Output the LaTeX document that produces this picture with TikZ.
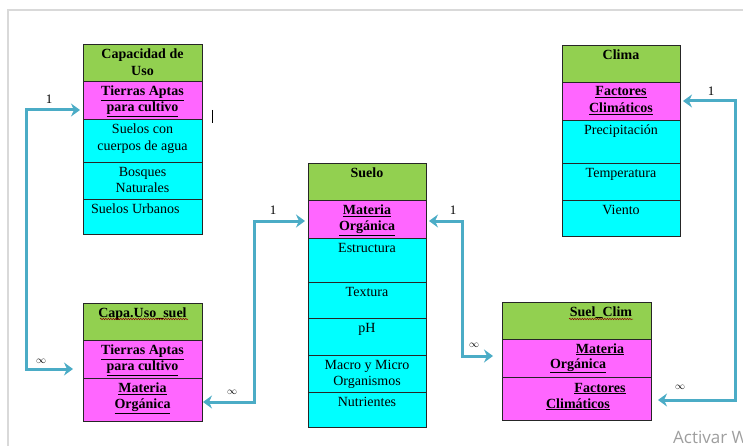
\documentclass[tikz,border=0pt]{standalone}
\usepackage{fontspec}
\setmainfont{Liberation Serif}
\newfontfamily\wmfont{Open Sans}
\usetikzlibrary{arrows.meta,decorations.pathmorphing}
\definecolor{hdr}{HTML}{92D050}
\definecolor{pnk}{HTML}{FF66FF}
\definecolor{cyn}{HTML}{00FFFF}
\definecolor{linkc}{HTML}{4BACC6}
\tikzset{
  cellbox/.style={draw=black!85, line width=0.9pt, anchor=north west, inner sep=0pt, outer sep=0pt},
  celltxt/.style={anchor=north, inner sep=0pt, align=center, font=\fontsize{14}{16.5}\selectfont},
  basetxt/.style={anchor=base, inner sep=0pt, font=\fontsize{14}{16.5}\selectfont},
  link/.style={draw=linkc, line width=3pt,
    {Stealth[length=9pt,width=13pt,inset=3pt]}-{Stealth[length=9pt,width=13pt,inset=3pt]}},
  card/.style={font=\fontsize{13}{15}\selectfont, inner sep=0pt},
  inf/.style={font=\fontsize{10}{12}\selectfont, inner sep=0pt},
  squig/.style={decorate, decoration={snake, amplitude=0.7pt, segment length=2.5pt}, draw=red!55!black, line width=0.5pt}
}
\newcommand\mkcell[6]{\node[cellbox, fill=#6, minimum width=#4pt, minimum height=#5pt] (#1) at (#2,#3) {};}
\begin{document}
\begin{tikzpicture}[x=1pt,y=-1pt]
\useasboundingbox (0,0) rectangle (743,446);
\clip (0,0) rectangle (743,446);
\fill[white] (0,0) rectangle (743,446);
\draw[black!15, line width=2pt] (8,446) -- (8,10) -- (743,10);

% Box 1: Capacidad de Uso
\mkcell{c1h}{83}{44}{119}{37}{hdr}
\mkcell{c1p}{83}{81}{119}{38}{pnk}
\mkcell{c1a}{83}{119}{119}{43}{cyn}
\mkcell{c1b}{83}{162}{119}{37}{cyn}
\mkcell{c1c}{83}{199}{119}{35}{cyn}
\node[celltxt] (t1h) at ([yshift=-5pt]c1h.north) {\textbf{Capacidad de}\\\textbf{Uso}};
\node[celltxt] (t1p) at ([yshift=-4.5pt]c1p.north) {\textbf{\underline{Tierras Aptas}}\\\textbf{\underline{para cultivo}}};
\node[celltxt] (t1a) at ([yshift=-5pt]c1a.north) {Suelos con\\cuerpos de agua};
\node[celltxt] (t1b) at ([yshift=-5pt]c1b.north) {Bosques\\Naturales};
\node[celltxt, anchor=north west] (t1c) at ([shift={(8pt,-5pt)}]c1c.north west) {Suelos Urbanos};

% Box 2: Capa.Uso_suel
\mkcell{c2h}{83}{303}{119}{37}{hdr}
\mkcell{c2p}{83}{340}{119}{38}{pnk}
\mkcell{c2q}{83}{378}{119}{43}{pnk}
\node[celltxt] (t2h) at ([yshift=-5pt]c2h.north) {\textbf{Capa.Uso\_suel}};
\node[celltxt] (t2p) at ([yshift=-4.5pt]c2p.north) {\textbf{\underline{Tierras Aptas}}\\\textbf{\underline{para cultivo}}};
\node[celltxt] (t2q) at ([yshift=-4.5pt]c2q.north) {\textbf{\underline{Materia}}\\\textbf{\underline{Orgánica}}};
\draw[squig] (100,319) -- (188,319);

% Box 3: Suelo
\mkcell{c3h}{308}{163}{118}{37}{hdr}
\mkcell{c3p}{308}{200}{118}{38}{pnk}
\mkcell{c3a}{308}{238}{118}{44}{cyn}
\mkcell{c3b}{308}{282}{118}{36}{cyn}
\mkcell{c3c}{308}{318}{118}{37}{cyn}
\mkcell{c3d}{308}{355}{118}{37}{cyn}
\mkcell{c3e}{308}{392}{118}{35}{cyn}
\node[celltxt] (t3h) at ([yshift=-5pt]c3h.north) {\textbf{Suelo}};
\node[celltxt] (t3p) at ([yshift=-4.5pt]c3p.north) {\textbf{\underline{Materia}}\\\textbf{\underline{Orgánica}}};
\node[celltxt] (t3a) at ([yshift=-5pt]c3a.north) {Estructura};
\node[celltxt] (t3b) at ([yshift=-5pt]c3b.north) {Textura};
\node[celltxt] (t3c) at ([yshift=-5pt]c3c.north) {pH};
\node[celltxt] (t3d) at ([yshift=-5pt]c3d.north) {Macro y Micro\\Organismos};
\node[celltxt] (t3e) at ([yshift=-5pt]c3e.north) {Nutrientes};

% Box 4: Clima
\mkcell{c4h}{562}{45}{118}{37}{hdr}
\mkcell{c4p}{562}{82}{118}{38}{pnk}
\mkcell{c4a}{562}{120}{118}{43}{cyn}
\mkcell{c4b}{562}{163}{118}{37}{cyn}
\mkcell{c4c}{562}{200}{118}{36}{cyn}
\node[celltxt] (t4h) at ([yshift=-5pt]c4h.north) {\textbf{Clima}};
\node[celltxt] (t4p) at ([yshift=-4.5pt]c4p.north) {\textbf{\underline{Factores}}\\\textbf{\underline{Climáticos}}};
\node[celltxt] (t4a) at ([yshift=-5pt]c4a.north) {Precipitación};
\node[celltxt] (t4b) at ([yshift=-5pt]c4b.north) {Temperatura};
\node[celltxt] (t4c) at ([yshift=-5pt]c4c.north) {Viento};

% Box 5: Suel_Clim
\mkcell{c5h}{502}{302}{149}{37}{hdr}
\mkcell{c5p}{502}{339}{149}{38}{pnk}
\mkcell{c5q}{502}{377}{149}{43}{pnk}
\node[basetxt] (t5h) at ([shift={(24.5pt,-14pt)}]c5h.north) {\textbf{Suel\_Clim}};
\node[basetxt] (t5p1) at ([shift={(23.5pt,-14pt)}]c5p.north) {\textbf{\underline{Materia}}};
\node[basetxt] (t5p2) at ([shift={(1.5pt,-29pt)}]c5p.north) {\textbf{\underline{Orgánica}}};
\node[basetxt] (t5q1) at ([shift={(23.5pt,-15pt)}]c5q.north) {\textbf{\underline{Factores}}};
\node[basetxt] (t5q2) at ([shift={(1.5pt,-31pt)}]c5q.north) {\textbf{\underline{Climáticos}}};
\draw[squig] (569,319) -- (633,319);

% text cursor
\draw[line width=0.8pt] (212,110) -- (212,123);

% Connectors
\draw[link] ([shift={(-3pt,-10pt)}]c1p.west) -- ++(-54,0) |- ([shift={(-10pt,-10pt)}]c2p.west);
\draw[link] ([shift={(1pt,-2.5pt)}]c2q.east) -- ++(51,0) |- ([shift={(-3pt,-2pt)}]c3p.west);
\draw[link] ([shift={(3pt,-2pt)}]c3p.east) -- ++(33,0) |- ([shift={(-9pt,2pt)}]c5p.west);
\draw[link] ([shift={(3pt,0pt)}]c4p.east) -- ++(52,0) |- ([shift={(7pt,-1.5pt)}]c5q.east);

% cardinalities
\node[card] (k1) at (49,99) {1};
\node[inf] (k2) at (41,361) {$\infty$};
\node[card] (k3) at (273,210) {1};
\node[inf] (k4) at (232,392) {$\infty$};
\node[card] (k5) at (453,210) {1};
\node[inf] (k6) at (474,345) {$\infty$};
\node[card] (k7) at (711,91) {1};
\node[inf] (k8) at (680,387) {$\infty$};

% watermark
\node[anchor=north west, inner sep=0pt, text=black!38, font=\wmfont\fontsize{17}{20}\selectfont] (wm) at (673,431) {Activar W};
\end{tikzpicture}
\end{document}
